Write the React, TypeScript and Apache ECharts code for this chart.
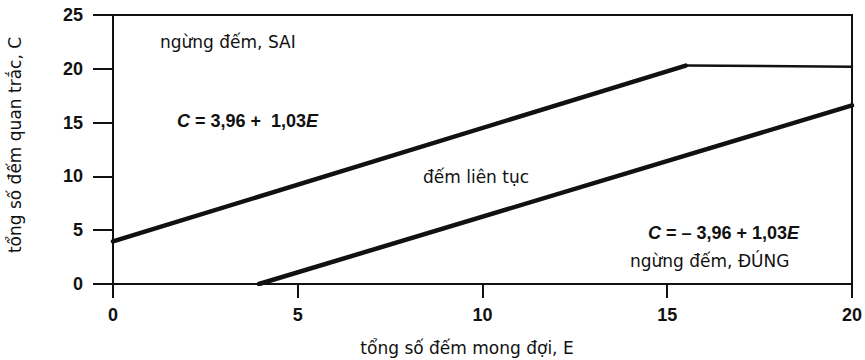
import React, { useEffect, useRef } from "react";
import * as echarts from "echarts";

// Data
const upperSlope: [number, number][] = [
  [0, 3.96],
  [15.5, 20.3],
];
const upperFlat: [number, number][] = [
  [15.5, 20.3],
  [20, 20.2],
];
const lowerLine: [number, number][] = [
  [3.95, 0],
  [20, 16.6],
];
const xTicks = [0, 5, 10, 15, 20];
const yTicks = [0, 5, 10, 15, 20, 25];

const xName = "tổng số đếm mong đợi, E";
const yName = "tổng số đếm quan trắc, C";

const BOLD_FONT = "'Liberation Sans', Arial, sans-serif";
const TEXT_FONT = "'DejaVu Sans', sans-serif";
const INK = "#111";

export default function App() {
  const ref = useRef<HTMLDivElement>(null);

  useEffect(() => {
    if (!ref.current) return;
    const chart = echarts.init(ref.current, undefined, { renderer: "svg" });
    const lineSeries = (data: [number, number][], width: number) => ({
      type: "line",
      data,
      symbol: "none",
      lineStyle: { color: INK, width, cap: "round", join: "round" },
      silent: true,
    });
    const rich = {
      i: { fontStyle: "italic", fontWeight: "bold", fontSize: 18, fontFamily: BOLD_FONT, fill: INK },
    };
    const plain = (text: string, x: number, y: number) => ({
      type: "text",
      x,
      y,
      style: { text, fontSize: 17, fontFamily: TEXT_FONT, fill: INK, verticalAlign: "middle" },
    });
    const eq = (text: string, x: number, y: number) => ({
      type: "text",
      x,
      y,
      style: {
        text,
        fontSize: 18,
        fontWeight: "bold",
        fontFamily: BOLD_FONT,
        fill: INK,
        verticalAlign: "middle",
        rich,
      },
    });
    chart.setOption({
      animation: false,
      backgroundColor: "#fff",
      grid: {
        left: 113,
        right: 13,
        top: 15,
        bottom: 76,
        show: true,
        borderColor: INK,
        borderWidth: 2,
        backgroundColor: "transparent",
      },
      xAxis: {
        type: "value",
        min: xTicks[0],
        max: xTicks[xTicks.length - 1],
        interval: 5,
        axisLine: { show: true, onZero: false, lineStyle: { color: INK, width: 2 } },
        axisTick: { show: true, inside: false, length: 14, lineStyle: { color: INK, width: 2 } },
        axisLabel: { color: INK, fontSize: 18, fontWeight: "bold", fontFamily: BOLD_FONT, margin: 22 },
        splitLine: { show: false },
      },
      yAxis: {
        type: "value",
        min: yTicks[0],
        max: yTicks[yTicks.length - 1],
        interval: 5,
        axisLine: { show: true, onZero: false, lineStyle: { color: INK, width: 2 } },
        axisTick: { show: true, inside: false, length: 20, lineStyle: { color: INK, width: 2 } },
        axisLabel: { color: INK, fontSize: 18, fontWeight: "bold", fontFamily: BOLD_FONT, margin: 30 },
        splitLine: { show: false },
      },
      series: [lineSeries(upperSlope, 4.5), lineSeries(upperFlat, 2.5), lineSeries(lowerLine, 4.5)],
      graphic: [
        {
          type: "text",
          x: 467,
          y: 348,
          style: {
            text: xName,
            fontSize: 17,
            fontFamily: TEXT_FONT,
            fill: INK,
            textAlign: "center",
            verticalAlign: "middle",
          },
        },
        {
          type: "text",
          x: 15,
          y: 145,
          rotation: Math.PI / 2,
          style: {
            text: yName,
            fontSize: 17,
            fontFamily: TEXT_FONT,
            fill: INK,
            textAlign: "center",
            verticalAlign: "middle",
          },
        },
        plain("ngừng đếm, SAI", 160, 42),
        eq("{i|C} = 3,96 +  1,03{i|E}", 177, 121),
        plain("đếm liên tục", 423, 177),
        eq("{i|C} = – 3,96 + 1,03{i|E}", 648, 233),
        plain("ngừng đếm, ĐÚNG", 630, 261),
      ],
    });
    return () => chart.dispose();
  }, []);

  return (
    <div
      ref={ref}
      style={{ position: "fixed", left: 0, top: 0, width: 865, height: 360, background: "#fff" }}
    />
  );
}
